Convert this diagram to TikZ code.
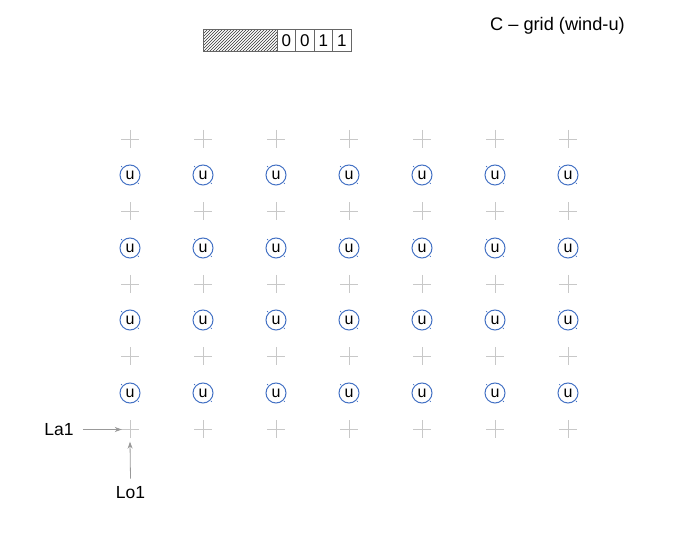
\documentclass[tikz,border=0pt]{standalone}
\usepackage{fontspec}
\setmainfont{Liberation Sans}
\usetikzlibrary{patterns,arrows.meta}
\definecolor{ublue}{HTML}{4472C4}
\definecolor{pgray}{HTML}{C8C8C8}
\definecolor{agray}{HTML}{999999}
\tikzset{
  plusmark/.style={minimum size=18pt,inner sep=0pt,
    path picture={\draw[pgray,line width=0.9pt]
      (path picture bounding box.north) -- (path picture bounding box.south)
      (path picture bounding box.west) -- (path picture bounding box.east);}},
  ucirc/.style={circle,draw=ublue,line width=1pt,minimum size=20pt,inner sep=0pt,
    font=\fontsize{16}{18}\selectfont},
  cornerdot/.style={fill=ublue,circle,inner sep=0pt,minimum size=1.3pt},
  lbl/.style={font=\fontsize{17.5}{20}\selectfont,inner sep=0pt},
  garrow/.style={agray,line width=0.8pt,-{Stealth[length=7pt,width=5pt]}},
  cell/.style={draw=black!60,line width=0.6pt,minimum width=18.5pt,minimum height=22pt,
    inner sep=0pt,font=\fontsize{17}{19}\selectfont}
}
\begin{document}
\begin{tikzpicture}[x=1pt,y=-1pt]
\useasboundingbox (0,0) rectangle (673,534);
% title
\node[lbl,font=\fontsize{18.2}{21}\selectfont,anchor=west] (title) at (490,25.5) {C -- grid (wind-u)};
% bit bar
\node[cell,minimum width=74pt,fill=gray!35,pattern=north east lines,pattern color=black!80] (hatch) at (240,40.5) {};
\node[cell,minimum width=74pt] at (240,40.5) {};
\node[cell] (b0) at (286.25,40.5) {0};
\node[cell] (b1) at (304.75,40.5) {0};
\node[cell] (b2) at (323.25,40.5) {1};
\node[cell] (b3) at (341.75,40.5) {1};
% grid
\foreach \i [count=\ci] in {130,203,276,349,422,495,568}{
  \foreach \j [count=\cj] in {139,211.5,284,356.5,429.5}{
    \node[plusmark] (p-\ci-\cj) at (\i,\j) {};
  }
  \foreach \j [count=\cj] in {175,248,320,393}{
    \node[ucirc] (u-\ci-\cj) at (\i,\j) {u};
    \node[cornerdot] at ([xshift=-1pt,yshift=1pt]u-\ci-\cj.north west) {};
    \node[cornerdot] at ([xshift=1pt,yshift=-1pt]u-\ci-\cj.south east) {};
  }
}
% labels
\node[lbl] (la) at (59,429.5) {La1};
\node[lbl] (lo) at (130.5,493) {Lo1};
\draw[garrow] ([xshift=9pt]la.east) -- ([xshift=1pt]p-1-5.west);
\draw[garrow] ([yshift=8pt]lo.north) -- ([yshift=-3pt]p-1-5.south);
\end{tikzpicture}
\end{document}
